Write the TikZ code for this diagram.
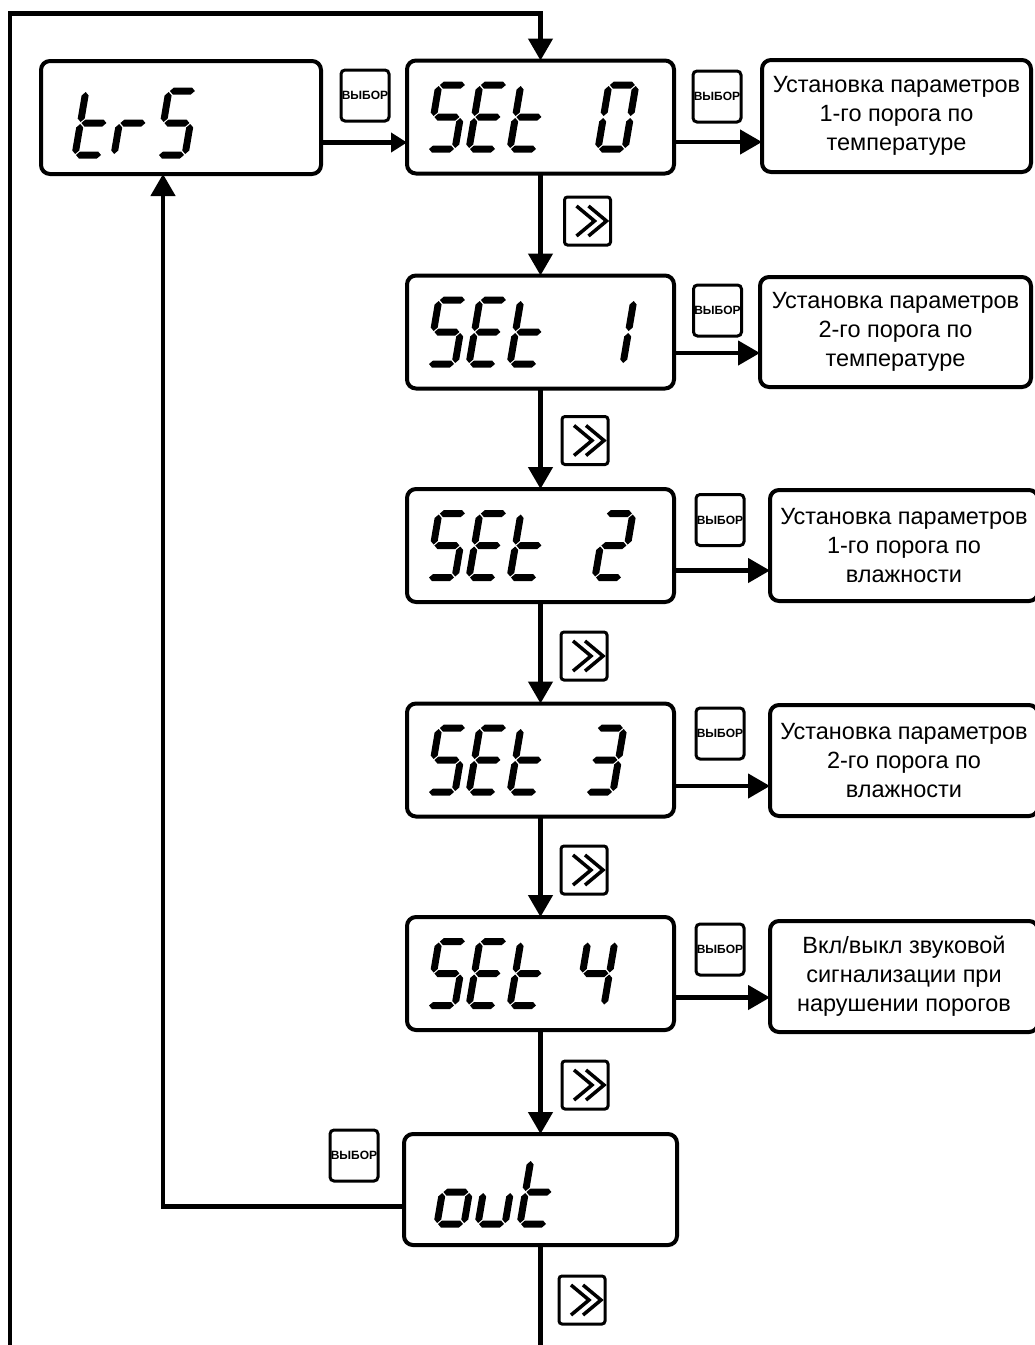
\documentclass[tikz,border=0pt]{standalone}
\usepackage{fontspec}
\setmainfont{Liberation Sans}
\usetikzlibrary{arrows.meta}

\tikzset{
  conn/.style={line width=4.5pt},
  arr/.style={conn, -{Triangle[length=22pt,width=24pt]}},
  arrsmall/.style={conn, -{Triangle[length=16pt,width=19pt]}},
  disp/.style={draw, line width=4pt, rounded corners=9pt, minimum width=267pt, minimum height=113pt, inner sep=0pt, outer sep=0pt},
  info/.style={draw, line width=4pt, rounded corners=9pt, minimum width=269pt, minimum height=112pt, align=center, inner sep=0pt, outer sep=0pt, font=\fontsize{23.5}{29}\selectfont},
  btn/.style={draw, line width=3pt, rounded corners=4pt, minimum width=48pt, minimum height=51pt, inner sep=0pt, outer sep=0pt, font=\bfseries\fontsize{12}{12}\selectfont},
  chv/.style={draw, line width=3pt, rounded corners=3pt, minimum width=46pt, minimum height=48pt, inner sep=0pt, outer sep=0pt},
  chvline/.style={line width=3.5pt, miter limit=4},
}

% seven-segment pieces (local units: pt, y up)
\newcommand{\hsg}[1]{\fill (1,#1) -- (4.5,#1+3.5) -- (22.5,#1+3.5) -- (26,#1) -- (22.5,#1-3.5) -- (4.5,#1-3.5) -- cycle;}
\newcommand{\vsg}[3]{\fill (#1,#2+1) -- (#1+3.5,#2+4.5) -- (#1+3.5,#3-4.5) -- (#1,#3-1) -- (#1-3.5,#3-4.5) -- (#1-3.5,#2+4.5) -- cycle;}
\newcommand{\sgA}{\hsg{64}}
\newcommand{\sgD}{\hsg{0}}
\newcommand{\sgG}{\hsg{32}}
\newcommand{\sgF}{\vsg{0}{32}{64}}
\newcommand{\sgE}{\vsg{0}{0}{32}}
\newcommand{\sgB}{\vsg{27}{32}{64}}
\newcommand{\sgC}{\vsg{27}{0}{32}}
\newcommand{\ssdigit}[3]{\begin{scope}[shift={(#1,#2)},x=1pt,y=1pt,xslant=0.17]#3\end{scope}}
\newcommand{\digS}{\sgA\sgF\sgG\sgC\sgD}
\newcommand{\digE}{\sgA\sgF\sgG\sgE\sgD}
\newcommand{\digT}{\sgF\sgE\sgG\sgD}
\newcommand{\chev}[1]{%
  \draw[chvline] ([shift={(-11,-15)}]#1.center) -- ([shift={(7,0)}]#1.center) -- ([shift={(-11,15)}]#1.center);
  \draw[chvline] ([shift={(1,-15)}]#1.center) -- ([shift={(19,0)}]#1.center) -- ([shift={(1,15)}]#1.center);}

\begin{document}
\begin{tikzpicture}[x=1pt,y=-1pt]
\useasboundingbox (0,0) rectangle (1035,1345);

% display boxes
\node[disp, minimum width=280pt] (trs) at (181,117.5) {};
\node[disp] (set0) at (540.5,117) {};
\node[disp] (set1) at (540.5,332) {};
\node[disp] (set2) at (540.5,545.5) {};
\node[disp] (set3) at (540.5,760) {};
\node[disp] (set4) at (540.5,973.5) {};
\node[disp, minimum width=273pt, minimum height=111pt] (out) at (540.5,1189.5) {};

% info boxes
\node[info] (tb0) at (896.5,116) {Установка параметров\\1-го порога по\\температуре};
\node[info, minimum width=271pt, minimum height=110pt] (tb1) at (895.5,332) {Установка параметров\\2-го порога по\\температуре};
\node[info, minimum width=268pt, minimum height=111pt] (tb2) at (904,545.5) {Установка параметров\\1-го порога по\\влажности};
\node[info, minimum width=268pt, minimum height=111pt] (tb3) at (904,760.5) {Установка параметров\\2-го порога по\\влажности};
\node[info, minimum width=268pt, minimum height=111pt] (tb4) at (904,976.5) {Вкл/выкл звуковой\\сигнализации при\\нарушении порогов};

% buttons
\node[btn] (btnt) at (365,95.5) {ВЫБОР};
\node[btn] (btn0) at (717,96.5) {ВЫБОР};
\node[btn] (btn1) at (717.5,310.5) {ВЫБОР};
\node[btn] (btn2) at (720,520) {ВЫБОР};
\node[btn] (btn3) at (720,733.5) {ВЫБОР};
\node[btn] (btn4) at (720,949.5) {ВЫБОР};
\node[btn] (btno) at (354,1155.5) {ВЫБОР};

% chevron buttons
\node[chv] (chv0) at (587.5,221) {};
\node[chv] (chv1) at (585,440.5) {};
\node[chv] (chv2) at (584,656) {};
\node[chv] (chv3) at (584,870) {};
\node[chv] (chv4) at (585,1085) {};
\node[chv] (chv5) at (582,1300) {};
\chev{chv0}\chev{chv1}\chev{chv2}\chev{chv3}\chev{chv4}\chev{chv5}

% digits
\ssdigit{75}{155}{\digT}
\ssdigit{114}{155}{\sgE\sgG}
\ssdigit{158}{155}{\digS}

\ssdigit{428}{149}{\digS}
\ssdigit{469}{149}{\digE}
\ssdigit{510}{149}{\digT}
\ssdigit{598}{149}{\sgA\sgB\sgC\sgD\sgE\sgF}

\ssdigit{428}{364}{\digS}
\ssdigit{469}{364}{\digE}
\ssdigit{510}{364}{\digT}
\ssdigit{596}{364}{\sgB\sgC}

\ssdigit{428}{577.5}{\digS}
\ssdigit{469}{577.5}{\digE}
\ssdigit{510}{577.5}{\digT}
\ssdigit{595}{577.5}{\sgA\sgB\sgG\sgE\sgD}

\ssdigit{428}{792}{\digS}
\ssdigit{469}{792}{\digE}
\ssdigit{510}{792}{\digT}
\ssdigit{586}{792}{\sgA\sgB\sgG\sgC\sgD}

\ssdigit{428}{1005.5}{\digS}
\ssdigit{469}{1005.5}{\digE}
\ssdigit{510}{1005.5}{\digT}
\ssdigit{577}{1005.5}{\sgF\sgB\sgG\sgC}

\ssdigit{437}{1224}{\sgG\sgC\sgD\sgE}
\ssdigit{478}{1224}{\sgC\sgD\sgE}
\ssdigit{520}{1224}{\digT}

% connectors
\coordinate (lb) at (10,1350);
\coordinate (ob) at (540.5,1350);
\draw[arr] (lb) |- ([yshift=47pt]set0.north) -- (set0.north);
\draw[arrsmall] ([yshift=-25pt]trs.east) -- ([yshift=-25pt]trs.east -| set0.west);
\draw[arr] ([yshift=-25pt]set0.east) -- ([yshift=-25pt]set0.east -| tb0.west);
\draw[arr] ([yshift=-21pt]set1.east) -- ([yshift=-21pt]set1.east -| tb1.west);
\draw[arr] ([yshift=-25pt]set2.east) -- ([yshift=-25pt]set2.east -| tb2.west);
\draw[arr] ([yshift=-26pt]set3.east) -- ([yshift=-26pt]set3.east -| tb3.west);
\draw[arr] ([yshift=-24pt]set4.east) -- ([yshift=-24pt]set4.east -| tb4.west);
\draw[arr] (set0.south) -- (set1.north);
\draw[arr] (set1.south) -- (set2.north);
\draw[arr] (set2.south) -- (set3.north);
\draw[arr] (set3.south) -- (set4.north);
\draw[arr] (set4.south) -- (out.north);
\draw[conn] (out.south) -- (ob);
\draw[arr] ([yshift=-17pt]out.west) -| ([xshift=-18pt]trs.south);
\end{tikzpicture}
\end{document}
